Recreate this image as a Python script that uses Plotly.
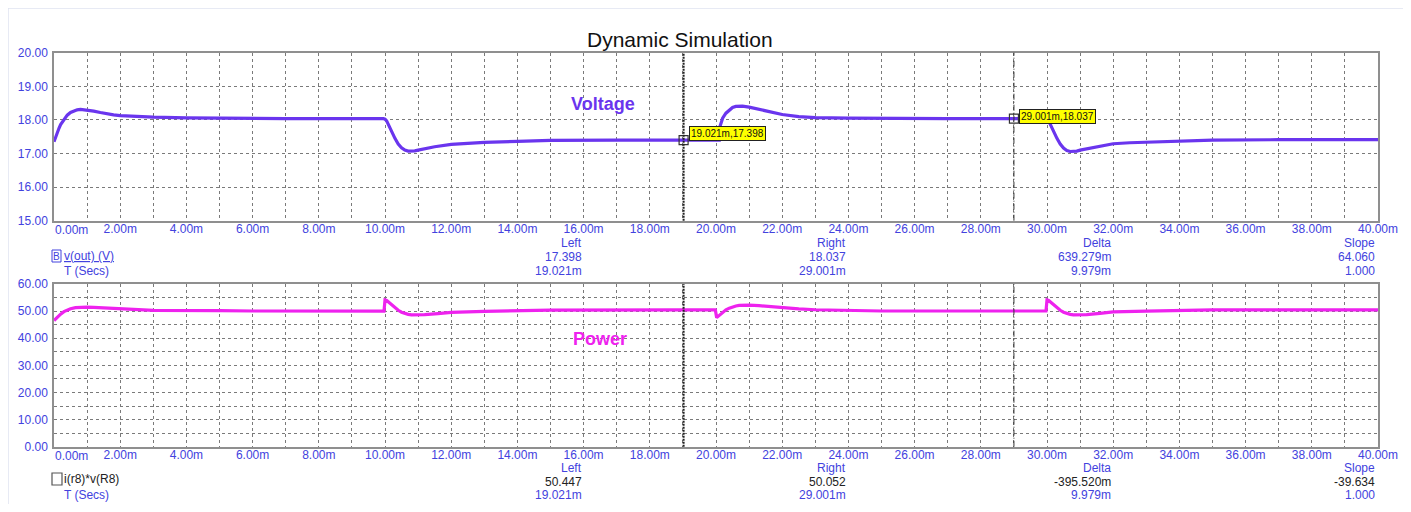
import plotly.graph_objects as go

# ---------------- data (time in ms) ----------------
t_v = [0, 0.05, 0.1, 0.15, 0.2, 0.3, 0.4, 0.5, 0.6, 0.7, 0.8, 0.9, 1.0, 1.2, 1.4, 1.6, 1.8, 2.0, 2.5, 3.0, 4.0, 5.0, 7.0, 9.95,
       10.0, 10.05, 10.1, 10.15, 10.2, 10.3, 10.4, 10.5, 10.6, 10.7, 10.8, 10.9, 11.0, 11.25, 11.5, 12.0, 12.5, 13.0, 14.0, 15.0, 17.0, 20.1,
       20.12, 20.15, 20.2, 20.3, 20.4, 20.5, 20.6, 20.7, 20.8, 21.0, 21.2, 21.4, 21.6, 21.8, 22.0, 22.5, 23.0, 24.0, 25.0, 27.0, 29.95,
       30.0, 30.05, 30.1, 30.15, 30.2, 30.3, 30.4, 30.5, 30.6, 30.7, 30.8, 30.9, 31.0, 31.25, 31.5, 32.0, 32.5, 33.0, 34.0, 35.0, 37.0, 40.0]
v_out = [17.35, 17.5, 17.63, 17.75, 17.86, 18.02, 18.14, 18.22, 18.27, 18.3, 18.31, 18.3, 18.29, 18.26, 18.22, 18.18, 18.15, 18.13, 18.1, 18.08, 18.06, 18.05, 18.04, 18.04,
         18.02, 17.97, 17.88, 17.78, 17.66, 17.45, 17.28, 17.17, 17.1, 17.07, 17.07, 17.08, 17.1, 17.15, 17.2, 17.27, 17.31, 17.33, 17.36, 17.39, 17.40, 17.40,
         17.8, 17.93, 18.05, 18.2, 18.3, 18.37, 18.4, 18.41, 18.41, 18.38, 18.34, 18.3, 18.25, 18.2, 18.16, 18.1, 18.07, 18.05, 18.04, 18.04, 18.04,
         18.02, 17.97, 17.88, 17.78, 17.66, 17.45, 17.28, 17.16, 17.09, 17.06, 17.06, 17.07, 17.1, 17.15, 17.21, 17.29, 17.32, 17.34, 17.37, 17.40, 17.41, 17.41]

t_p = [0, 0.1, 0.2, 0.3, 0.4, 0.5, 0.65, 0.8, 1.0, 1.2, 1.6, 2.0, 2.5, 3.0, 5.0, 6.0, 9.97,
       10.0, 10.05, 10.1, 10.2, 10.3, 10.4, 10.5, 10.6, 10.7, 10.8, 11.0, 11.2, 11.6, 12.0, 13.0, 14.0, 15.0, 19.0, 19.98,
       20.02, 20.1, 20.2, 20.3, 20.4, 20.5, 20.6, 20.7, 20.8, 21.0, 21.3, 21.6, 22.0, 22.5, 23.0, 24.0, 25.0, 29.97,
       30.0, 30.05, 30.1, 30.2, 30.3, 30.4, 30.5, 30.6, 30.7, 30.8, 31.0, 31.2, 31.6, 32.0, 33.0, 34.0, 35.0, 40.0]
power = [46.5, 47.8, 48.9, 49.8, 50.4, 50.9, 51.3, 51.5, 51.5, 51.4, 51.1, 50.8, 50.5, 50.3, 50.15, 50.05, 50.0,
         54.1, 53.9, 53.4, 52.3, 51.2, 50.3, 49.6, 49.1, 48.8, 48.65, 48.6, 48.7, 49.1, 49.5, 49.9, 50.2, 50.4, 50.45, 50.45,
         47.6, 48.5, 49.6, 50.5, 51.1, 51.6, 51.9, 52.1, 52.2, 52.2, 52.0, 51.7, 51.2, 50.8, 50.5, 50.2, 50.05, 50.05,
         54.1, 53.9, 53.4, 52.3, 51.2, 50.3, 49.6, 49.1, 48.8, 48.65, 48.6, 48.7, 49.2, 49.7, 50.0, 50.25, 50.45, 50.45]

x_ticks = [0, 2, 4, 6, 8, 10, 12, 14, 16, 18, 20, 22, 24, 26, 28, 30, 32, 34, 36, 38, 40]
x_ticktext = ["%.2fm" % v for v in x_ticks]
v_ticks = [15, 16, 17, 18, 19, 20]
p_ticks = [0, 10, 20, 30, 40, 50, 60]

cursor_left = 19.021
cursor_right = 29.001
v_left, v_right = 17.398, 18.037

v_readout = [["Left", "17.398", "19.021m"], ["Right", "18.037", "29.001m"],
             ["Delta", "639.279m", "9.979m"], ["Slope", "64.060", "1.000"]]
p_readout = [["Left", "50.447", "19.021m"], ["Right", "50.052", "29.001m"],
             ["Delta", "-395.520m", "9.979m"], ["Slope", "-39.634", "1.000"]]

# ---------------- styling ----------------
BLUE = "#4242de"
VCOL = "#6a35ee"
PCOL = "#ee22ee"
GRID = "#7a7a7a"
FONT = "Liberation Sans, Arial, sans-serif"

OFF = 8  # browser body margin
W, H = 1411 - 2 * OFF, 512 - 2 * OFF


def px(x):
    return (x - OFF) / W


def py(y):
    return 1 - (y - OFF) / H


X0, X1 = 54, 1378
xdom = [px(X0), px(X1)]
ydom_v = [py(220.7), py(52.7)]
ydom_p = [py(446.7), py(284)]

fig = go.Figure()
fig.add_trace(go.Scatter(x=t_v, y=v_out, mode="lines", line=dict(color=VCOL, width=3.2),
                         xaxis="x", yaxis="y", showlegend=False, hoverinfo="skip"))
fig.add_trace(go.Scatter(x=t_p, y=power, mode="lines", line=dict(color=PCOL, width=3.2),
                         xaxis="x2", yaxis="y2", showlegend=False, hoverinfo="skip"))
# cursor markers
fig.add_trace(go.Scatter(x=[cursor_left, cursor_right], y=[v_left, v_right], mode="markers",
                         marker=dict(symbol="square-open", size=9, color="#333", line=dict(width=1.2)),
                         xaxis="x", yaxis="y", showlegend=False, hoverinfo="skip"))

grid = dict(showgrid=True, gridcolor=GRID, gridwidth=1, griddash="3px,3px")
minor_grid = dict(showgrid=True, gridcolor=GRID, gridwidth=1, griddash="3px,3px")
axfont = dict(family=FONT, size=12, color=BLUE)

# first tick label is drawn left-aligned at the axis start (as in the reference)
xcommon = dict(domain=xdom, range=[0, 40], tickmode="array", tickvals=x_ticks[1:], ticktext=x_ticktext[1:],
               tickfont=axfont, showline=True, linecolor="#8f8f8f", linewidth=1.5, mirror=True,
               zeroline=False, ticks="", automargin=False, ticklabelstandoff=-4,
               minor=dict(dtick=1, **minor_grid), **grid)

fig.update_layout(
    width=W, height=H,
    margin=dict(l=0, r=0, t=0, b=0),
    paper_bgcolor="white", plot_bgcolor="white",
    font=dict(family=FONT),
    xaxis=dict(anchor="y", **xcommon),
    xaxis2=dict(anchor="y2", **xcommon),
    yaxis=dict(domain=ydom_v, range=[15, 20], tickmode="array", tickvals=v_ticks,
               ticktext=["%.2f" % v for v in v_ticks], tickfont=axfont, showline=True,
               linecolor="#8f8f8f", linewidth=1.5, mirror=True, zeroline=False, ticks="",
               automargin=False, anchor="x", ticklabelstandoff=2, **grid),
    yaxis2=dict(domain=ydom_p, range=[0, 60], tickmode="array", tickvals=p_ticks,
                ticktext=["%.2f" % v for v in p_ticks], tickfont=axfont, showline=True,
                linecolor="#8f8f8f", linewidth=1.5, mirror=True, zeroline=False, ticks="",
                automargin=False, anchor="x2", ticklabelstandoff=2,
                minor=dict(dtick=5, **minor_grid), **grid),
)

shapes = []
# card border
shapes.append(dict(type="rect", xref="paper", yref="paper", x0=0, x1=px(1404), y0=-0.05, y1=1,
                   fillcolor="rgba(0,0,0,0)", line=dict(color="#dfe4f1", width=1.5), layer="below"))
# cursor lines
for xr, yr in (("x", "y domain"), ("x2", "y2 domain")):
    shapes.append(dict(type="line", xref=xr, yref=yr, x0=cursor_left, x1=cursor_left, y0=0, y1=1,
                       line=dict(color="#222", width=2, dash="2px,1px")))
    shapes.append(dict(type="line", xref=xr, yref=yr, x0=cursor_right, x1=cursor_right, y0=0, y1=1,
                       line=dict(color="#333", width=1, dash="6px,2px,1px,2px")))
# legend boxes
shapes.append(dict(type="rect", xref="paper", yref="paper", x0=px(52), x1=px(61), y0=py(262), y1=py(250),
                   line=dict(color=BLUE, width=1)))
shapes.append(dict(type="rect", xref="paper", yref="paper", x0=px(52), x1=px(62), y0=py(485), y1=py(473),
                   line=dict(color="#555", width=1.2)))
fig.update_layout(shapes=shapes)


def label(text, x, y, xanchor="center", size=12, color=BLUE):
    return dict(text=text, x=px(x), y=py(y), xref="paper", yref="paper", xanchor=xanchor,
                yanchor="middle", showarrow=False, borderpad=0,
                font=dict(family=FONT, size=size, color=color))


ann = []
ann.append(label("Dynamic Simulation", 680, 40, size=21, color="#111"))
ann.append(dict(text="<b>Voltage</b>", x=16.6, y=18.47, xref="x", yref="y", showarrow=False,
                xanchor="center", yanchor="middle",
                font=dict(family=FONT, size=18, color=VCOL)))
ann.append(dict(text="<b>Power</b>", x=16.5, y=39.8, xref="x2", yref="y2", showarrow=False,
                xanchor="center", yanchor="middle",
                font=dict(family=FONT, size=18, color=PCOL)))
# first x tick label of each axis
for xr, yr in (("x", "y domain"), ("x2", "y2 domain")):
    ann.append(dict(text=x_ticktext[0], x=x_ticks[0], y=0, xref=xr, yref=yr, showarrow=False,
                    xanchor="left", yanchor="top", borderpad=0, yshift=-1,
                    font=axfont))
for xc, yc, ys in ((cursor_left, v_left, 7), (cursor_right, v_right, 2)):
    ann.append(dict(text="%.3fm,%.3f" % (xc, yc), x=xc, y=yc, xref="x", yref="y", showarrow=False,
                    xanchor="left", yanchor="middle", xshift=5, yshift=ys,
                    bgcolor="#ffff00", bordercolor="#222", borderwidth=1, borderpad=1,
                    font=dict(family=FONT, size=10, color="#111")))
# readouts
col_right = [583, 847, 1112, 1376]
for ci, xr in enumerate(col_right):
    for ri, (yv, yp) in enumerate(((243, 468), (257, 482), (271, 495))):
        ann.append(label(v_readout[ci][ri], xr, yv, xanchor="right"))
        ann.append(label(p_readout[ci][ri], xr, yp, xanchor="right",
                         color="#222" if ri == 1 else BLUE))
# legend labels
ann.append(label("B", 56.5, 256, size=10))
ann.append(label("<u>v(out) (V)</u>", 62.5, 256, xanchor="left"))
ann.append(label("T (Secs)", 86, 271))
ann.append(label("i(r8)*v(R8)", 63, 479, xanchor="left", color="#222"))
ann.append(label("T (Secs)", 86, 495))
fig.update_layout(annotations=ann)

fig.write_html("out.html")
